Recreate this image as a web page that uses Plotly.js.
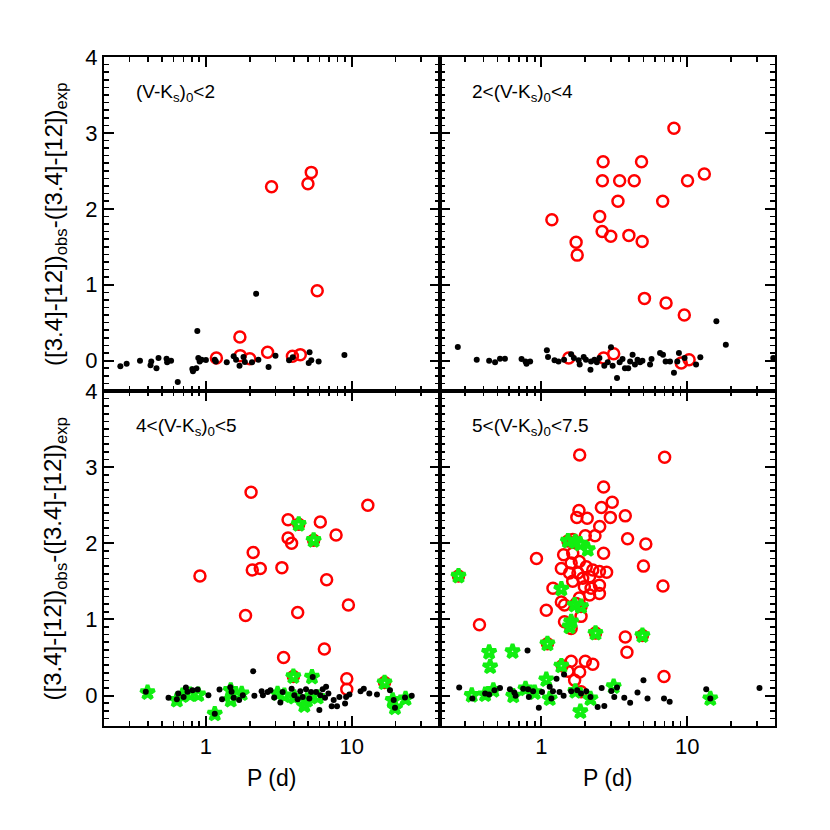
<!DOCTYPE html>
<html>
<head>
<meta charset="utf-8">
<script src="https://cdn.plot.ly/plotly-3.0.1.min.js"></script>
<style>html,body{margin:0;padding:0;background:#fff;}#chart{width:830px;height:830px;}</style>
</head>
<body>
<div id="chart"></div>
<script>
// ---------- Data (P in days, y = ([3.4]-[12])obs - ([3.4]-[12])exp) ----------
// Panel 1: (V-Ks)0 < 2
const p1DotP = [0.259,0.286,0.353,0.422,0.417,0.458,0.473,0.537,0.542,0.577,0.641,0.807,0.815,0.859,0.873,0.887,0.906,0.934,1.0,1.15,1.17,1.39,1.55,1.61,1.70,1.81,1.85,2.07,2.21,2.29,2.69,3.0,3.72,3.94,5.07,5.14,5.28,5.93,8.91];
const p1DotY = [-0.075,-0.04,0.0,-0.01,-0.06,-0.10,0.035,0.026,-0.02,0.0,-0.28,-0.11,-0.14,-0.10,0.39,0.035,-0.01,0.013,0.01,0.013,-0.013,-0.02,0.057,0.013,-0.066,0.048,-0.018,-0.02,0.88,0.013,-0.083,0.066,0.004,0.044,-0.03,0.11,0.004,-0.01,0.075];
const p1CircP = [2.82,5.01,5.28,5.80,1.71,1.18,1.72,2.0,2.65,3.92,4.44];
const p1CircY = [2.29,2.33,2.48,0.92,0.31,0.035,0.066,0.026,0.11,0.057,0.079];

// Panel 2: 2 < (V-Ks)0 < 4
const p2DotP = [0.267,0.36,0.438,0.481,0.52,0.562,0.731,0.778,0.79,0.837,1.09,1.11,1.23,1.31,1.43,1.60,1.67,1.80,1.83,1.95,2.02,2.17,2.19,2.31,2.40,2.50,2.70,2.85,3.0,3.08,3.30,3.44,3.6,3.74,3.94,4.06,4.22,4.38,4.56,4.75,4.93,5.56,5.69,6.51,6.82,7.11,7.62,8.11,8.55,8.77,9.59,11.5,12.3,15.85,18.4,38.9];
const p2DotY = [0.18,0.013,0.0,-0.02,0.026,0.026,0.022,-0.01,-0.04,-0.01,0.136,0.048,0.004,-0.01,0.013,0.083,0.035,0.004,-0.05,0.048,0.013,-0.12,-0.01,0.013,-0.02,0.035,-0.066,-0.02,0.175,-0.066,-0.23,-0.02,0.022,-0.1,-0.1,-0.01,0.079,-0.05,0.013,-0.02,0.0,-0.05,0.022,0.10,0.079,-0.01,-0.01,-0.16,-0.01,0.10,0.035,-0.05,0.044,0.52,0.21,0.035];
const p2CircP = [8.11,2.65,4.86,2.62,3.44,4.33,10.05,13.1,3.35,6.79,1.18,2.51,2.61,2.99,3.98,4.91,1.73,1.76,5.09,7.16,9.55,1.54,2.67,3.13,9.10,10.3];
const p2CircY = [3.06,2.62,2.62,2.37,2.37,2.37,2.37,2.46,2.10,2.10,1.855,1.90,1.70,1.64,1.65,1.57,1.56,1.39,0.82,0.76,0.60,0.035,0.035,0.09,-0.03,0.013];

// Panel 3: 4 < (V-Ks)0 < 5
const p3DotP = [0.387,0.554,0.632,0.646,0.703,0.729,0.748,0.81,0.877,1.04,1.15,1.24,1.29,1.47,1.50,1.55,1.69,1.79,2.11,2.15,2.41,2.46,2.65,2.77,2.94,3.24,3.36,3.87,4.04,4.26,4.44,4.61,4.86,5.12,5.26,5.40,5.69,6.0,6.09,6.32,6.56,6.67,6.92,7.29,7.52,7.93,8.23,9.0,9.15,9.64,11.5,12.1,13.2,14.9,18.3,19.4,19.8,23.2,25.8];
const p3DotY = [0.05,-0.03,-0.05,0.026,-0.02,0.105,0.05,0.07,0.08,0.004,-0.24,0.08,-0.05,0.11,0.05,-0.03,-0.06,0.004,0.32,-0.004,0.057,0.004,0.048,0.07,-0.026,-0.09,0.048,0.09,0.004,-0.05,0.057,-0.018,0.083,-0.04,0.048,0.245,0.048,-0.19,0.004,0.083,-0.03,0.114,0.026,-0.14,-0.06,-0.14,-0.018,-0.105,-0.018,0.013,0.057,0.09,0.026,0.013,0.07,-0.06,-0.16,-0.026,-0.004];
const p3CircP = [2.04,12.9,3.66,6.09,4.33,3.66,3.87,5.48,7.81,2.11,2.08,2.36,3.32,0.91,6.73,9.49,1.87,4.26,6.49,3.41,3.98,9.25,9.25,16.8];
const p3CircY = [2.67,2.50,2.31,2.28,2.25,2.07,2.0,2.04,2.11,1.88,1.65,1.67,1.68,1.57,1.52,1.19,1.05,1.09,0.61,0.50,0.25,0.22,0.083,0.17];
const p3StarP = [0.398,0.632,0.69,0.78,0.886,1.15,1.48,1.48,1.76,3.10,3.45,3.98,4.04,4.33,4.73,4.93,5.34,5.48,5.84,16.8,19.1,19.8,23.4];
const p3StarY = [0.04,-0.06,0.0,0.013,0.013,-0.24,0.07,-0.06,0.026,0.026,0.0,0.25,-0.02,2.25,-0.13,-0.06,0.245,2.04,-0.02,0.17,-0.06,-0.16,-0.04];

// Panel 4: 5 < (V-Ks)0 < 7.5
const p4DotP = [0.273,0.336,0.411,0.438,0.476,0.52,0.608,0.652,0.665,0.75,0.803,0.811,0.82,0.877,0.96,1.01,1.14,1.17,1.20,1.27,1.33,1.42,1.43,1.60,1.76,1.87,2.03,2.17,2.43,2.59,2.70,3.02,3.16,3.30,3.70,4.06,4.56,5.01,5.34,6.93,7.58,13.5,14.4,31.3];
const p4DotY = [0.105,-0.04,0.026,0.013,0.07,0.10,0.083,0.04,-0.004,0.09,0.59,0.083,-0.018,0.057,-0.16,0.048,0.114,-0.04,0.057,0.22,0.048,-0.004,0.276,0.057,0.07,0.026,0.057,-0.018,-0.15,0.10,-0.136,0.06,-0.018,0.105,-0.03,-0.096,0.04,0.20,-0.04,-0.04,-0.083,0.083,-0.04,0.10];
const p4CircP = [1.83,7.0,2.67,3.06,2.58,1.81,1.75,2.06,2.97,3.76,2.51,2.33,2.0,3.90,5.2,1.52,1.64,2.67,0.925,5.01,1.42,1.64,1.37,1.60,1.82,2.03,1.56,1.78,2.25,2.50,2.80,1.92,2.14,1.64,1.97,2.19,2.50,1.20,2.50,2.14,6.82,1.37,1.44,1.82,1.73,1.87,1.08,1.87,1.44,1.60,0.376,1.10,2.35,4.93,3.76,3.86,1.60,2.0,2.25,1.39,1.52,1.83,1.69,1.87,6.93,0.27];
const p4CircY = [3.16,3.13,2.74,2.54,2.47,2.43,2.34,2.33,2.34,2.36,2.22,2.10,2.10,2.06,1.99,2.03,2.05,1.87,1.80,1.70,1.85,1.87,1.67,1.74,1.76,1.69,1.61,1.61,1.65,1.63,1.62,1.54,1.56,1.50,1.43,1.41,1.45,1.41,1.34,1.32,1.44,1.23,1.19,1.28,1.21,1.17,1.12,1.04,0.97,0.88,0.93,0.68,0.82,0.79,0.77,0.57,0.45,0.45,0.41,0.39,0.32,0.31,0.20,0.05,0.25,1.57];
const p4StarP = [0.27,1.52,1.71,1.85,2.08,1.37,1.69,1.87,1.60,1.56,1.10,2.35,4.93,0.438,0.445,0.634,1.37,1.08,0.333,0.411,0.468,0.641,0.778,0.90,1.14,1.71,1.85,2.17,3.13,14.4];
const p4StarY = [1.57,2.03,2.02,1.99,1.92,1.40,1.19,1.17,0.97,0.905,0.68,0.82,0.79,0.57,0.38,0.58,0.39,0.21,0.004,0.013,0.07,-0.004,0.09,0.04,-0.04,0.057,-0.21,-0.04,0.12,-0.04];

const panelLabels = ['(V-K<sub>s</sub>)<sub>0</sub>&lt;2', '2&lt;(V-K<sub>s</sub>)<sub>0</sub>&lt;4', '4&lt;(V-K<sub>s</sub>)<sub>0</sub>&lt;5', '5&lt;(V-K<sub>s</sub>)<sub>0</sub>&lt;7.5'];
const xTickVals = [1, 10];
const xTickText = ['1', '10'];
const xMinorVals = [0.2,0.3,0.4,0.5,0.6,0.7,0.8,0.9,2,3,4,5,6,7,8,9,20,30,40];
const yTitle = '([3.4]-[12])<sub>obs</sub>-([3.4]-[12])<sub>exp</sub>';
const xTitle = 'P (d)';

// ---------- Build ----------
const FONT = 'Liberation Sans, Arial, sans-serif';
const panels = [
  {xa:'x', ya:'y', dotP:p1DotP, dotY:p1DotY, circP:p1CircP, circY:p1CircY, starP:[], starY:[]},
  {xa:'x2', ya:'y2', dotP:p2DotP, dotY:p2DotY, circP:p2CircP, circY:p2CircY, starP:[], starY:[]},
  {xa:'x3', ya:'y3', dotP:p3DotP, dotY:p3DotY, circP:p3CircP, circY:p3CircY, starP:p3StarP, starY:p3StarY},
  {xa:'x4', ya:'y4', dotP:p4DotP, dotY:p4DotY, circP:p4CircP, circY:p4CircY, starP:p4StarP, starY:p4StarY}
];
const traces = [];
panels.forEach(p => {
  traces.push({type:'scatter', mode:'markers', x:p.circP, y:p.circY, xaxis:p.xa, yaxis:p.ya,
    marker:{symbol:'circle-open', size:11, color:'#ff0000', line:{width:2.5, color:'#ff0000'}}, hoverinfo:'skip'});
  if (p.starP.length) traces.push({type:'scatter', mode:'markers', x:p.starP, y:p.starY, xaxis:p.xa, yaxis:p.ya,
    marker:{symbol:'star-open', size:10.5, color:'#11ee11', line:{width:3.8, color:'#11ee11'}}, hoverinfo:'skip'});
  traces.push({type:'scatter', mode:'markers', x:p.dotP, y:p.dotY, xaxis:p.xa, yaxis:p.ya,
    marker:{symbol:'circle', size:6, color:'#000000'}, hoverinfo:'skip'});
});

const W = 830;
const colL = [104/W, 439.5/W], colR = [439.5/W, 775/W];
const rowT = [1-391/W, 1-57/W], rowB = [1-726/W, 1-391/W];

function xaxis(dom, anchor, labels) {
  return {domain:dom, anchor:anchor, type:'log', range:[Math.log10(0.2), Math.log10(40)],
    tickmode:'array', tickvals:xTickVals, ticktext:xTickText, showticklabels:labels,
    ticks:'inside', ticklen:10, tickwidth:2, tickcolor:'#000',
    minor:{tickmode:'array', tickvals:xMinorVals, ticks:'inside', ticklen:5, tickwidth:1.6, tickcolor:'#000'},
    showline:true, linecolor:'#000', linewidth:2, mirror:'ticks', showgrid:false, zeroline:false,
    tickfont:{family:FONT, size:22, color:'#000'}, fixedrange:true};
}
function yaxis(dom, anchor, labels) {
  return {domain:dom, anchor:anchor, range:[-0.4, 4], tickmode:'linear', tick0:0, dtick:1, showticklabels:labels,
    ticks:'inside', ticklen:10, tickwidth:2, tickcolor:'#000',
    minor:{tickmode:'linear', tick0:0, dtick:0.1, ticks:'inside', ticklen:5, tickwidth:1.6, tickcolor:'#000'},
    showline:true, linecolor:'#000', linewidth:2, mirror:'ticks', showgrid:false, zeroline:false,
    tickfont:{family:FONT, size:22, color:'#000'}, fixedrange:true};
}

const annotations = [];
const refs = [['x','y'],['x2','y2'],['x3','y3'],['x4','y4']];
refs.forEach((r,i) => {
  annotations.push({xref:r[0]+' domain', yref:r[1]+' domain', x:0.09, y:0.893, xanchor:'left', yanchor:'middle',
    text:panelLabels[i], showarrow:false, font:{family:FONT, size:19, color:'#000'}});
});
[[0.7301],[0.3271]].forEach(v => {
  annotations.push({xref:'paper', yref:'paper', x:55/W, y:v[0], xanchor:'center', yanchor:'middle', textangle:-90,
    text:yTitle, showarrow:false, font:{family:FONT, size:24, color:'#000'}});
});
[271.5/W, 607.25/W].forEach(xc => {
  annotations.push({xref:'paper', yref:'paper', x:xc, y:1-778/W, xanchor:'center', yanchor:'middle',
    text:xTitle, showarrow:false, font:{family:FONT, size:23, color:'#000'}});
});

const layout = {
  width:830, height:830, margin:{l:0, r:0, t:0, b:0},
  paper_bgcolor:'#fff', plot_bgcolor:'#fff', showlegend:false, hovermode:false,
  xaxis: xaxis(colL, 'y', false),
  yaxis: yaxis(rowT, 'x', true),
  xaxis2: xaxis(colR, 'y2', false),
  yaxis2: yaxis(rowT, 'x2', false),
  xaxis3: xaxis(colL, 'y3', true),
  yaxis3: yaxis(rowB, 'x3', true),
  xaxis4: xaxis(colR, 'y4', true),
  yaxis4: yaxis(rowB, 'x4', false),
  annotations: annotations
};
Plotly.newPlot('chart', traces, layout, {staticPlot:true, displayModeBar:false});
</script>
</body>
</html>
